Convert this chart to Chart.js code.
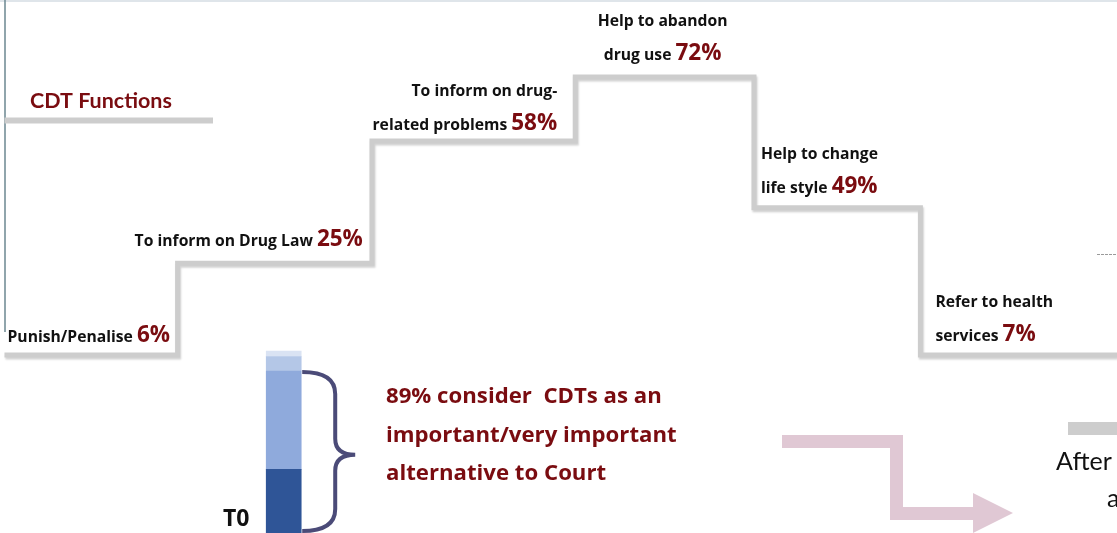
<!DOCTYPE html>
<html>
<head>
<meta charset="utf-8">
<script src="https://cdn.jsdelivr.net/npm/chart.js@4.4.1/dist/chart.umd.min.js"></script>
<style>
  html, body { margin: 0; padding: 0; background: #fff; }
  #wrap { width: 1117px; height: 533px; }
</style>
</head>
<body>
<div id="wrap"><canvas id="grafico" width="1117" height="533"></canvas></div>
<script>
// CDT functions (staircase) - labels and shares
const funciones = [
    ["Punish/Penalise"],
    ["To inform on Drug Law"],
    ["To inform on drug-", "related problems"],
    ["Help to abandon", "drug use"],
    ["Help to change", "life style"],
    ["Refer to health", "services"]
]
const porcentajes = [6, 25, 58, 72, 49, 7]
// height of each step in the drawing (highest step = 100)
const nivelEscalon = [0, 33, 77, 100, 53, 0]
// where each step starts, in % of the width (last value = end of line)
const bordeEscalon = [0.4, 15.9, 33.3, 51.5, 67.5, 82.4, 100]

// T0 bar: importance of CDTs as alternative to Court
const barraEtiqueta = "T0"
const barraPosicion = 25.4
const barraValores = [35, 54, 8, 3]

const rojo = '#7a0c10'
const gris = '#cdcdcd'
const coloresBarra = ['#2f5597', '#8faadc', '#b4c7e7', '#dae3f3']
const fuenteNegra = 'bold 15.7px "Open Sans"'
const fuentePct = 'bold 22.5px "Open Sans"'

const puntosEscalera = bordeEscalon.map((x, i) => ({ x: x, y: nivelEscalon[Math.min(i, nivelEscalon.length - 1)] }))

const datasetsBarra = barraValores.map((v, i) => ({
    type: 'bar',
    data: [{ x: barraPosicion, y: v }],
    backgroundColor: coloresBarra[i],
    borderWidth: 0,
    barThickness: 35,
    grouped: false,
    stack: 't0',
    yAxisID: 'yBarra'
}))

// label layout: anchor of text on the step and small nudges
const alineacion = ['left', 'left', 'right', 'center', 'left', 'left']
const desplazX = [3, -43, -18, -2, 7, 15]
const elevacion = [13, 17, 11, 17, 15, 14]

function textoMixto(ctx, negro, pct, x, y, align) {
    ctx.font = fuenteNegra
    const w1 = ctx.measureText(negro + ' ').width
    ctx.font = fuentePct
    const w2 = ctx.measureText(pct).width
    let x0 = x
    if (align === 'right') x0 = x - w1 - w2
    if (align === 'center') x0 = x - (w1 + w2) / 2
    ctx.textAlign = 'left'
    ctx.fillStyle = '#111'
    ctx.font = fuenteNegra
    ctx.fillText(negro + ' ', x0, y)
    ctx.fillStyle = rojo
    ctx.font = fuentePct
    ctx.fillText(pct, x0 + w1, y)
}

const dibujos = {
    id: 'dibujos',
    beforeDatasetsDraw(chart) {
        const ctx = chart.ctx
        const { left, right, top } = chart.chartArea
        ctx.save()
        // frame lines
        ctx.strokeStyle = '#dfe5ea'
        ctx.lineWidth = 2
        ctx.beginPath(); ctx.moveTo(left, top + 1); ctx.lineTo(right, top + 1); ctx.stroke()
        ctx.strokeStyle = '#6b8790'
        ctx.lineWidth = 1.5
        ctx.beginPath(); ctx.moveTo(5, top); ctx.lineTo(5, 332); ctx.stroke()
        ctx.restore()
    },
    beforeDatasetDraw(chart, args) {
        if (args.index === 0) {
            const ctx = chart.ctx
            ctx.save()
            ctx.shadowColor = 'rgba(0,0,0,0.18)'
            ctx.shadowOffsetX = 1
            ctx.shadowOffsetY = 2
            ctx.shadowBlur = 2
        }
    },
    afterDatasetDraw(chart, args) {
        if (args.index === 0) chart.ctx.restore()
    },
    afterDatasetsDraw(chart) {
        const ctx = chart.ctx
        const xs = chart.scales.x
        const ys = chart.scales.y
        const yb = chart.scales.yBarra
        ctx.save()
        ctx.textBaseline = 'alphabetic'

        // title + its rule
        ctx.fillStyle = rojo
        ctx.font = 'bold 21.5px Lato'
        ctx.fillText('CDT Functions', 30, 108)
        ctx.strokeStyle = gris
        ctx.lineWidth = 6
        ctx.beginPath()
        ctx.moveTo(xs.getPixelForValue(bordeEscalon[0]), 120.5)
        ctx.lineTo(213, 120.5)
        ctx.stroke()

        // step labels
        funciones.forEach((lineas, i) => {
            const yPaso = ys.getPixelForValue(nivelEscalon[i])
            const x0 = xs.getPixelForValue(bordeEscalon[i])
            const x1 = xs.getPixelForValue(bordeEscalon[i + 1])
            let ax = x0
            if (alineacion[i] === 'right') ax = x1
            if (alineacion[i] === 'center') ax = (x0 + x1) / 2
            ax += desplazX[i]
            const base = yPaso - elevacion[i]
            const n = lineas.length
            for (let k = 0; k < n - 1; k++) {
                ctx.font = fuenteNegra
                ctx.fillStyle = '#111'
                ctx.textAlign = alineacion[i]
                ctx.fillText(lineas[k], ax, base - 34 * (n - 1 - k))
            }
            textoMixto(ctx, lineas[n - 1], porcentajes[i] + '%', ax, base, alineacion[i])
        })

        // brace next to the bar (covers the two lower segments)
        const meta = chart.getDatasetMeta(1)
        const el = meta.data[0]
        const bx = el.x + el.width / 2 + 1
        const yTop = yb.getPixelForValue(barraValores[0] + barraValores[1]) + 1
        const yBot = yb.getPixelForValue(0) - 2
        const yMid = yTop + (yBot - yTop) * 0.52
        ctx.strokeStyle = '#4b4b78'
        ctx.lineWidth = 4
        ctx.beginPath()
        ctx.moveTo(bx, yTop)
        ctx.quadraticCurveTo(bx + 33, yTop, bx + 33, yTop + 22)
        ctx.lineTo(bx + 33, yMid - 16)
        ctx.quadraticCurveTo(bx + 33, yMid, bx + 53, yMid)
        ctx.quadraticCurveTo(bx + 33, yMid, bx + 33, yMid + 16)
        ctx.lineTo(bx + 33, yBot - 22)
        ctx.quadraticCurveTo(bx + 33, yBot, bx, yBot)
        ctx.stroke()

        // statement text
        const total = barraValores[0] + barraValores[1]
        ctx.fillStyle = rojo
        ctx.font = 'bold 22.2px "Open Sans"'
        ctx.textAlign = 'left'
        ctx.fillText(total + '% consider  CDTs as an', 386, 403)
        ctx.fillText('important/very important', 386, 442)
        ctx.fillText('alternative to Court', 386, 480)

        // bar label
        ctx.fillStyle = '#111'
        ctx.font = 'bold 23px "Open Sans"'
        ctx.fillText(barraEtiqueta, 223, 526)

        // pink arrow
        ctx.strokeStyle = '#e0c8d4'
        ctx.fillStyle = '#e0c8d4'
        ctx.lineWidth = 13
        ctx.lineJoin = 'miter'
        ctx.beginPath()
        ctx.moveTo(782, 441.5)
        ctx.lineTo(896.5, 441.5)
        ctx.lineTo(896.5, 513.5)
        ctx.lineTo(975, 513.5)
        ctx.stroke()
        ctx.beginPath()
        ctx.moveTo(973, 493)
        ctx.lineTo(1013, 513)
        ctx.lineTo(973, 533)
        ctx.closePath()
        ctx.fill()

        // cut-off part on the right
        ctx.fillStyle = gris
        ctx.fillRect(1068, 422, 49, 13)
        ctx.strokeStyle = '#9a9a9a'
        ctx.lineWidth = 1
        ctx.setLineDash([3, 1])
        ctx.beginPath(); ctx.moveTo(1097, 254.5); ctx.lineTo(1117, 254.5); ctx.stroke()
        ctx.setLineDash([])
        ctx.fillStyle = '#111'
        ctx.font = '25px Lato'
        ctx.fillText('After', 1056, 470)
        ctx.fillText('a', 1107, 507)
        ctx.restore()
    }
}

function crearGrafico() {
    const grafico = document.querySelector('#grafico')
    const config = {
        type: 'line',
        data: {
            datasets: [
                {
                    data: puntosEscalera,
                    stepped: true,
                    borderColor: gris,
                    borderWidth: 5,
                    borderCapStyle: 'butt',
                    borderJoinStyle: 'miter',
                    pointRadius: 0,
                    fill: false,
                    yAxisID: 'y'
                },
                ...datasetsBarra
            ]
        },
        options: {
            responsive: false,
            devicePixelRatio: 1,
            animation: false,
            layout: { padding: 0 },
            plugins: { legend: { display: false }, tooltip: { enabled: false } },
            scales: {
                x: { type: 'linear', display: false, min: 0, max: 100, offset: false },
                y: { type: 'linear', display: false, min: -64, max: 127.7 },
                yBarra: { type: 'linear', display: false, min: 0, max: 292.9, stacked: true }
            }
        },
        plugins: [dibujos]
    }
    new Chart(grafico, config)
}

Promise.all([
    document.fonts.load('bold 14px Lato'),
    document.fonts.load('bold 14px "Open Sans"')
]).then(crearGrafico, crearGrafico)
</script>
</body>
</html>
